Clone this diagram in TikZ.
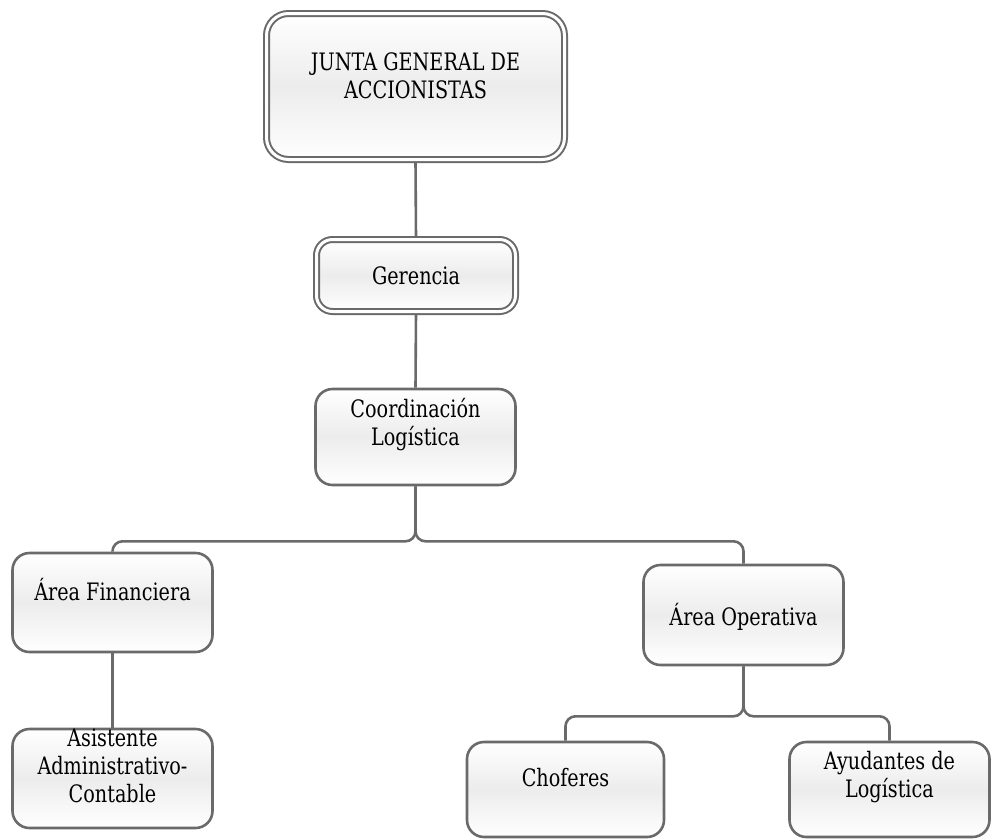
\documentclass[tikz,border=0pt]{standalone}
\usepackage{fontspec}
\setmainfont{DejaVu Serif}[FakeStretch=0.8]
\usetikzlibrary{backgrounds}
\definecolor{edgegray}{HTML}{6A6A6A}
\definecolor{midgray}{HTML}{ECECEC}
\tikzset{
  box/.style={draw=edgegray, line width=2.6pt, rounded corners=17pt,
    top color=white, bottom color=white, middle color=midgray, inner sep=0pt},
  dbox/.style={box, line width=2pt, double=white, double distance=3pt},
  boxtext/.style={align=center, inner sep=0pt,
    font=\fontsize{24}{28}\selectfont},
  conn/.style={draw=edgegray, line width=2.6pt, rounded corners=10pt},
}
\begin{document}
\begin{tikzpicture}[x=1pt,y=1pt]
\useasboundingbox (0,0) rectangle (991,-839);

% boxes
\node[dbox, rounded corners=22pt, minimum width=298, minimum height=146] (jga) at (415.5,-86.5) {};
\node[dbox, rounded corners=16pt, minimum width=199, minimum height=72] (ger) at (416,-275.5) {};
\node[box, minimum width=200, minimum height=96] (coo) at (415.5,-437) {};
\node[box, minimum width=200, minimum height=99] (afi) at (112.5,-602.5) {};
\node[box, minimum width=200, minimum height=99] (asi) at (112.5,-778.5) {};
\node[box, minimum width=200, minimum height=100] (aop) at (743.5,-615) {};
\node[box, minimum width=197, minimum height=95] (cho) at (565.5,-789.5) {};
\node[box, minimum width=200, minimum height=95] (ayu) at (889.5,-789.5) {};

% texts
\node[boxtext] (t-jga) at (415.5,-76) {JUNTA GENERAL DE\\ACCIONISTAS};
\node[boxtext] (t-ger) at (416,-276) {Gerencia};
\node[boxtext] (t-coo) at (415.5,-425) {Coordinación\\Logística};
\node[boxtext] (t-afi) at (112.5,-590) {Área Financiera};
\node[boxtext] (t-asi) at (112.5,-766) {Asistente\\Administrativo-\\Contable};
\node[boxtext] (t-aop) at (743.5,-617) {Área Operativa};
\node[boxtext] (t-cho) at (565.5,-778) {Choferes};
\node[boxtext] (t-ayu) at (889.5,-777) {Ayudantes de\\Logística};

% connectors
\begin{scope}[on background layer]
\draw[conn] (jga.south) -- (ger.north);
\draw[conn] (ger.south) -- (coo.north);
\draw[conn] (coo.south) -- ++(0,-55) -| (afi.north);
\draw[conn] (coo.south) -- ++(0,-55) -| (aop.north);
\draw[conn] (afi.south) -- (asi.north);
\draw[conn] (aop.south) -- ++(0,-50) -| (cho.north);
\draw[conn] (aop.south) -- ++(0,-50) -| (ayu.north);
\end{scope}
\end{tikzpicture}
\end{document}
